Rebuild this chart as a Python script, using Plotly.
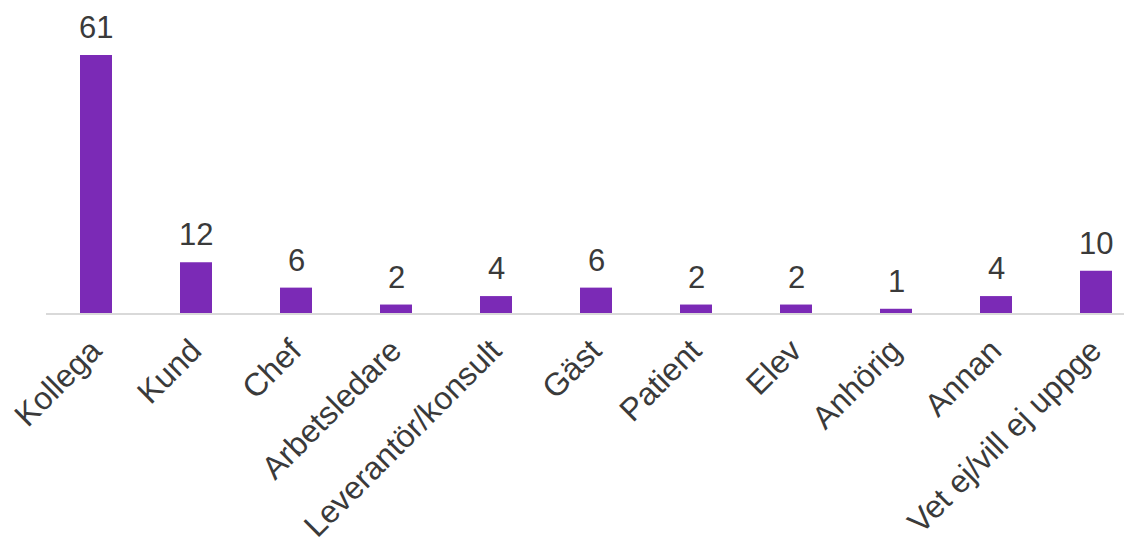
import plotly.graph_objects as go

# Data
categories = ["Kollega", "Kund", "Chef", "Arbetsledare", "Leverantör/konsult", "Gäst",
              "Patient", "Elev", "Anhörig", "Annan", "Vet ej/vill ej uppge"]
values = [61, 12, 6, 2, 4, 6, 2, 2, 1, 4, 10]

bar_color = "#7B2AB6"
text_color = "#3a3a3a"
font_family = "Liberation Sans, Arial"

trace = go.Bar(
    x=categories,
    y=values,
    marker=dict(color=bar_color, line=dict(width=0)),
    width=0.32,
)

# value labels above the bars
annotations = [
    dict(x=c, y=v, text=str(v), showarrow=False, xanchor="center", yanchor="bottom",
         yshift=8, font=dict(size=31, color=text_color, family=font_family))
    for c, v in zip(categories, values)
]

# page body adds an 8px margin, so the figure is a bit smaller than the window
layout = go.Layout(
    width=1124,
    height=529,
    margin=dict(l=38, r=0, t=0, b=224),
    paper_bgcolor="white",
    plot_bgcolor="white",
    showlegend=False,
    font=dict(family=font_family, size=32, color=text_color),
    annotations=annotations,
    xaxis=dict(
        range=[-0.5, 10.36],
        automargin=False,
        showline=True,
        linecolor="#d9d9d9",
        linewidth=2,
        tickangle=-45,
        ticks="",
        ticklabelstandoff=4,
        ticklabelshift=-4,
        tickfont=dict(size=32, color=text_color),
        showgrid=False,
    ),
    yaxis=dict(
        range=[0, 72.1],
        visible=False,
        automargin=False,
        showgrid=False,
        zeroline=False,
    ),
)

fig = go.Figure(data=[trace], layout=layout)
fig.write_html("out.html")
